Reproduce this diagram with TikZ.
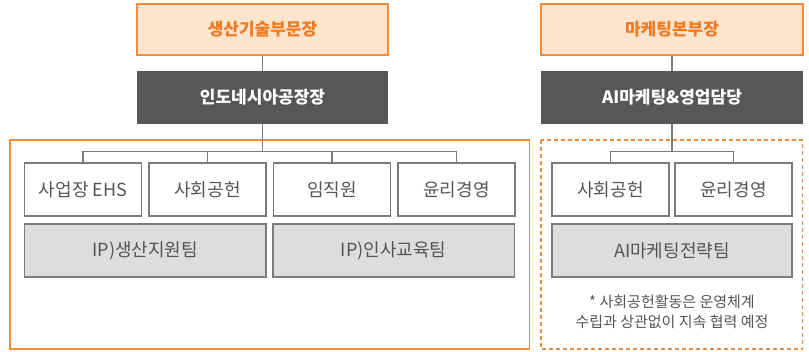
\documentclass[tikz,border=0pt]{standalone}
\usepackage{fontspec}
\setmainfont{Noto Sans CJK KR}
\usepackage{xcolor}
\usepackage{tikz}
\usetikzlibrary{calc}
\definecolor{bg}{HTML}{FFFFFF}
\definecolor{orangeline}{HTML}{F28C3A}
\definecolor{orangefill}{HTML}{FDE4CD}
\definecolor{orangetext}{HTML}{EE7A22}
\definecolor{chieffill}{HTML}{595755}
\definecolor{conn}{HTML}{7B7B7B}
\definecolor{teamfill}{HTML}{DCDDDD}
\definecolor{labtext}{HTML}{555555}
\tikzset{
  head/.style={draw=orangeline, fill=orangefill, line width=1.5pt, inner sep=0pt,
    minimum height=51pt, text=orangetext, font=\fontsize{17}{20}\selectfont\bfseries},
  chief/.style={fill=chieffill, inner sep=0pt, minimum height=53pt,
    text=white, font=\fontsize{17}{20}\selectfont\bfseries},
  frame/.style={draw=orangeline, line width=1.5pt},
  unit/.style={draw=conn, fill=bg, line width=1.2pt, inner sep=0pt, minimum width=117pt,
    minimum height=53pt, text=labtext, font=\fontsize{18}{21}\selectfont},
  team/.style={unit, fill=teamfill},
  link/.style={draw=conn, line width=1.2pt},
  note/.style={text=labtext, align=center, font=\fontsize{15}{20}\selectfont},
}
\begin{document}
\begin{tikzpicture}[x=1pt,y=-1pt]
  \useasboundingbox (0,0) rectangle (809,351);

  % production
  \draw[frame] (10,140) rectangle (529.5,349);
  \node[head, minimum width=251pt] (prod) at (262.5,29.5) {생산기술부문장};
  \node[chief, minimum width=251pt] (indo) at (262.5,97.5) {인도네시아공장장};
  \coordinate (bus1) at (262.5,151.5);
  \node[unit] (ehs) at (83,189.5) {사업장 EHS};
  \node[unit] (social1) at (207.5,189.5) {사회공헌};
  \node[unit] (staff) at (332,189.5) {임직원};
  \node[unit] (ethics1) at (456.5,189.5) {윤리경영};
  \node[team, minimum width=241.5pt] (supp) at (145.25,250.5) {IP)생산지원팀};
  \node[team, minimum width=241.5pt] (hr) at (393.75,250.5) {IP)인사교육팀};

  \draw[link] (prod) -- (indo);
  \draw[link] (indo.south) -- (bus1);
  \draw[link] (ehs.north) |- (bus1) -| (ethics1.north);
  \draw[link] (social1.north) -- (social1.north |- bus1);
  \draw[link] (staff.north) -- (staff.north |- bus1);

  % marketing
  \draw[frame, dash pattern=on 4pt off 3pt] (541,140) rectangle (802.5,349);
  \node[head, minimum width=262pt] (mkt) at (672,29.5) {마케팅본부장};
  \node[chief, minimum width=262pt] (aisales) at (672,97.5) {AI마케팅\&영업담당};
  \coordinate (bus2) at (672,151.5);
  \node[unit] (social2) at (610.5,189.5) {사회공헌};
  \node[unit] (ethics2) at (733.5,189.5) {윤리경영};
  \node[team, minimum width=240pt] (aistrat) at (672,250.5) {AI마케팅전략팀};
  \node[note] (remark) at (672,311.7) {* 사회공헌활동은 운영체계\\수립과 상관없이 지속 협력 예정};

  \draw[link] (mkt) -- (aisales);
  \draw[link] (aisales.south) -- (bus2);
  \draw[link] (social2.north) |- (bus2) -| (ethics2.north);
\end{tikzpicture}
\end{document}
